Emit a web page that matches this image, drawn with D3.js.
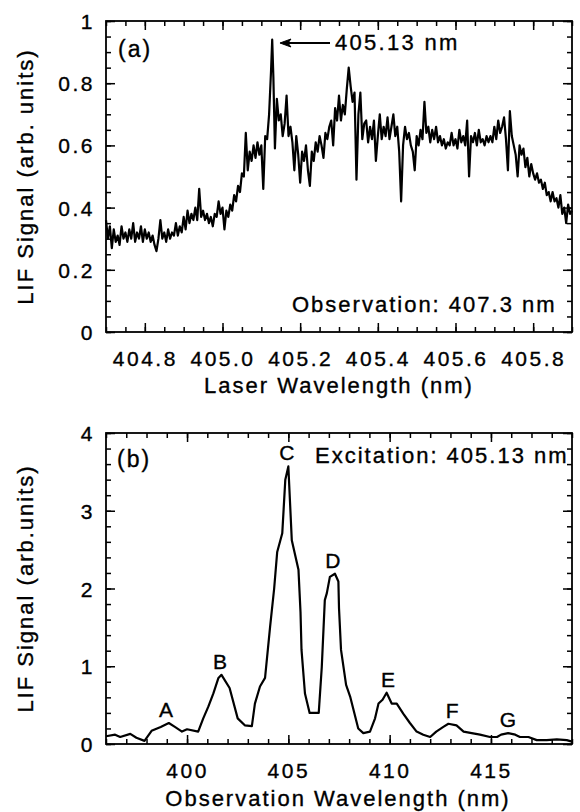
<!DOCTYPE html>
<html>
<head>
<meta charset="utf-8">
<script src="https://cdn.jsdelivr.net/npm/d3@7"></script>
<style>
  body { margin: 0; background: #fff; }
  svg text { font-family: "Liberation Sans", Arial, sans-serif; fill: #000; stroke: #000; stroke-width: 0.35px; }
</style>
</head>
<body>
<div id="chart"></div>
<script>
// panel (a): LIF excitation spectrum, observation at 407.3 nm
const laserSpectrum = [
  [404.700,0.36],[404.705,0.30],[404.710,0.34],[404.715,0.27],[404.720,0.33],[404.725,0.29],[404.730,0.31],[404.735,0.28],[404.740,0.34],[404.745,0.30],
  [404.750,0.32],[404.755,0.29],[404.760,0.33],[404.765,0.30],[404.770,0.35],[404.775,0.29],[404.780,0.32],[404.785,0.30],[404.790,0.34],[404.795,0.29],
  [404.800,0.33],[404.805,0.30],[404.810,0.32],[404.815,0.29],[404.820,0.31],[404.825,0.28],[404.830,0.26],[404.835,0.30],[404.840,0.36],[404.845,0.30],
  [404.850,0.32],[404.855,0.29],[404.860,0.33],[404.865,0.30],[404.870,0.32],[404.875,0.31],[404.880,0.35],[404.885,0.31],[404.890,0.34],[404.895,0.32],
  [404.900,0.37],[404.905,0.33],[404.910,0.39],[404.915,0.35],[404.920,0.38],[404.925,0.36],[404.930,0.40],[404.935,0.36],[404.940,0.46],[404.945,0.37],
  [404.950,0.39],[404.955,0.36],[404.960,0.38],[404.965,0.35],[404.970,0.37],[404.975,0.34],[404.980,0.38],[404.985,0.37],[404.990,0.42],[404.995,0.38],
  [405.000,0.40],[405.005,0.33],[405.010,0.39],[405.015,0.37],[405.020,0.41],[405.025,0.39],[405.030,0.44],[405.035,0.42],[405.040,0.47],[405.045,0.45],
  [405.050,0.51],[405.055,0.50],[405.060,0.64],[405.065,0.52],[405.070,0.58],[405.075,0.55],[405.080,0.60],[405.085,0.56],[405.090,0.61],[405.095,0.57],
  [405.100,0.60],[405.105,0.46],[405.110,0.63],[405.115,0.62],[405.120,0.70],[405.125,0.84],[405.128,0.94],[405.131,0.82],[405.135,0.59],[405.140,0.75],[405.145,0.68],
  [405.150,0.70],[405.155,0.63],[405.160,0.67],[405.165,0.76],[405.170,0.63],[405.175,0.66],[405.180,0.61],[405.185,0.52],[405.190,0.63],[405.195,0.57],
  [405.200,0.48],[405.205,0.58],[405.210,0.55],[405.215,0.60],[405.220,0.52],[405.225,0.47],[405.230,0.58],[405.235,0.55],[405.240,0.61],[405.245,0.58],
  [405.250,0.63],[405.255,0.60],[405.260,0.56],[405.265,0.64],[405.270,0.62],[405.275,0.66],[405.280,0.68],[405.285,0.60],[405.290,0.72],[405.295,0.68],
  [405.300,0.76],[405.305,0.68],[405.310,0.73],[405.315,0.70],[405.320,0.78],[405.325,0.85],[405.330,0.79],[405.335,0.74],[405.340,0.77],[405.345,0.49],
  [405.350,0.70],[405.355,0.77],[405.360,0.62],[405.365,0.67],[405.370,0.68],[405.375,0.61],[405.380,0.66],[405.385,0.62],[405.390,0.68],[405.395,0.55],
  [405.400,0.63],[405.405,0.70],[405.410,0.62],[405.415,0.66],[405.420,0.63],[405.425,0.69],[405.430,0.62],[405.435,0.66],[405.440,0.70],[405.445,0.63],
  [405.450,0.66],[405.455,0.58],[405.460,0.42],[405.465,0.60],[405.470,0.66],[405.475,0.62],[405.480,0.64],[405.485,0.60],[405.490,0.58],[405.495,0.52],
  [405.500,0.63],[405.505,0.60],[405.510,0.65],[405.515,0.62],[405.520,0.74],[405.525,0.64],[405.530,0.66],[405.535,0.61],[405.540,0.65],[405.545,0.62],
  [405.550,0.66],[405.555,0.61],[405.560,0.63],[405.565,0.60],[405.570,0.62],[405.575,0.59],[405.580,0.61],[405.585,0.60],[405.590,0.64],[405.595,0.60],
  [405.600,0.62],[405.605,0.59],[405.610,0.65],[405.615,0.61],[405.620,0.63],[405.625,0.60],[405.630,0.68],[405.635,0.50],[405.640,0.63],[405.645,0.61],
  [405.650,0.64],[405.655,0.60],[405.660,0.65],[405.665,0.61],[405.670,0.62],[405.675,0.60],[405.680,0.63],[405.685,0.61],[405.690,0.63],[405.695,0.61],
  [405.700,0.66],[405.705,0.62],[405.710,0.68],[405.715,0.64],[405.720,0.66],[405.725,0.69],[405.730,0.62],[405.735,0.52],[405.740,0.71],[405.745,0.63],
  [405.750,0.60],[405.755,0.57],[405.760,0.50],[405.765,0.60],[405.770,0.57],[405.775,0.59],[405.780,0.53],[405.785,0.56],[405.790,0.50],[405.795,0.54],
  [405.800,0.51],[405.805,0.49],[405.810,0.51],[405.815,0.48],[405.820,0.49],[405.825,0.46],[405.830,0.48],[405.835,0.44],[405.840,0.45],[405.845,0.42],
  [405.850,0.45],[405.855,0.42],[405.860,0.43],[405.865,0.40],[405.870,0.44],[405.875,0.38],[405.880,0.40],[405.885,0.35],[405.890,0.41],[405.895,0.38],[405.900,0.39]
]

// panel (b): dispersed fluorescence, excitation at 405.13 nm
const obsSpectrum = [
  [396.0,0.10],[396.45,0.12],[396.7,0.09],[397.2,0.13],[397.5,0.08],[397.9,0.04],[398.25,0.17],[398.7,0.22],[399.1,0.27],[399.4,0.22],
  [399.75,0.16],[400.0,0.19],[400.55,0.16],[400.8,0.33],[401.05,0.48],[401.3,0.65],[401.55,0.85],[401.7,0.89],[402.1,0.72],[402.5,0.33],
  [402.85,0.24],[403.2,0.23],[403.35,0.52],[403.6,0.74],[403.85,0.85],[404.1,1.51],[404.3,2.00],[404.45,2.47],[404.7,2.71],[404.85,3.40],
  [405.0,3.57],[405.17,2.62],[405.5,2.24],[405.6,1.70],[405.65,1.21],[405.82,0.65],[406.05,0.40],[406.5,0.40],[406.65,0.99],[406.8,1.85],
  [406.9,1.94],[407.05,2.15],[407.3,2.19],[407.47,2.09],[407.5,1.75],[407.6,1.21],[407.85,0.76],[408.05,0.61],[408.45,0.20],[408.7,0.14],
  [409.03,0.16],[409.28,0.33],[409.45,0.52],[409.65,0.57],[409.85,0.66],[410.1,0.52],[410.35,0.52],[410.67,0.39],[411.0,0.27],[411.33,0.16],
  [411.66,0.12],[412.0,0.09],[412.3,0.16],[412.65,0.22],[412.9,0.26],[413.3,0.24],[413.65,0.16],[414.05,0.14],[414.46,0.12],[414.95,0.09],
  [415.3,0.09],[415.5,0.12],[415.85,0.14],[416.2,0.12],[416.43,0.09],[416.85,0.09],[417.26,0.05],[417.75,0.05],[418.25,0.06],[418.74,0.05],[419.0,0.03]
]
const peakNames = ["A", "B", "C", "D", "E", "F", "G"]
const peakWl    = [398.96, 401.63, 404.93, 407.2, 409.92, 413.08, 415.84]
const peakTop   = [0.27, 0.89, 3.57, 2.19, 0.66, 0.26, 0.14]

// axes
const aXTicks = [404.8, 405.0, 405.2, 405.4, 405.6, 405.8]
const aYTicks = [0, 0.2, 0.4, 0.6, 0.8, 1]
const bXTicks = [400, 405, 410, 415]
const bYTicks = [0, 1, 2, 3, 4]

const W = 580, H = 812
const left = 106, right = 572

const svg = d3.select("#chart").append("svg")
  .attr("width", W).attr("height", H)
  .attr("viewBox", `0 0 ${W} ${H}`)

// draws frame, ticks on all four sides, and tick labels
const drawFrame = (g, x, y, xMajor, xMinor, yMajor, yMinor, xFmt, yFmt) => {
  const [x0, x1] = x.range(), [y0, y1] = y.range()
  const mk = (axis, vals, size, fmt) => axis.tickValues(vals).tickSize(size).tickSizeOuter(0)
    .tickPadding(size === -9 ? 12 : 0).tickFormat(fmt || "")

  g.append("g").attr("transform", `translate(0,${y0})`).call(mk(d3.axisBottom(x), xMinor, -5))
  g.append("g").attr("transform", `translate(0,${y0})`).attr("class", "xlab").call(mk(d3.axisBottom(x), xMajor, -9, xFmt))
  g.append("g").attr("transform", `translate(0,${y1})`).call(mk(d3.axisTop(x), xMinor, -5))
  g.append("g").attr("transform", `translate(0,${y1})`).call(mk(d3.axisTop(x), xMajor, -9))
  g.append("g").attr("transform", `translate(${x0},0)`).call(mk(d3.axisLeft(y), yMinor, -5))
  g.append("g").attr("transform", `translate(${x0},0)`).attr("class", "ylab").call(mk(d3.axisLeft(y), yMajor, -9, yFmt))
  g.append("g").attr("transform", `translate(${x1},0)`).call(mk(d3.axisRight(y), yMinor, -5))
  g.append("g").attr("transform", `translate(${x1},0)`).call(mk(d3.axisRight(y), yMajor, -9))

  g.selectAll(".domain").remove()
  g.selectAll(".tick line").attr("stroke", "#000").attr("stroke-width", 1.5)
  g.selectAll(".tick text").attr("font-size", 21).attr("letter-spacing", 2.5)
    .style("font-family", '"Liberation Sans", Arial, sans-serif')
  g.selectAll(".xlab .tick text").attr("dy", "1.05em")
  g.selectAll(".ylab .tick text").attr("x", -11).attr("dy", "0.36em")

  g.append("rect").attr("x", x0).attr("y", y1)
    .attr("width", x1 - x0).attr("height", y0 - y1)
    .attr("fill", "none").attr("stroke", "#000").attr("stroke-width", 1.8)
}

// ---------- panel (a) ----------
const ga = svg.append("g")
const xa = d3.scaleLinear().domain([404.7, 405.9]).range([left, right])
const ya = d3.scaleLinear().domain([0, 1]).range([332, 21])

drawFrame(ga, xa, ya, aXTicks, d3.range(404.7, 405.901, 0.05), aYTicks, d3.range(0, 1.001, 0.05),
  d => d.toFixed(1), d => (d === 0 || d === 1) ? d : d.toFixed(1))

ga.append("path").datum(laserSpectrum)
  .attr("fill", "none").attr("stroke", "#000").attr("stroke-width", 2.2).attr("stroke-linejoin", "round")
  .attr("d", d3.line().x(d => xa(d[0])).y(d => ya(d[1])))

ga.append("text").attr("x", 118).attr("y", 57).attr("font-size", 23).attr("letter-spacing", 2).text("(a)")
ga.append("text").attr("x", 292).attr("y", 312).attr("font-size", 22).attr("letter-spacing", 2).text("Observation: 407.3 nm")

// arrow to the 405.13 nm line
const tipX = xa(405.13) + 7, tipY = 43
ga.append("line").attr("x1", tipX + 6).attr("x2", 330).attr("y1", tipY).attr("y2", tipY)
  .attr("stroke", "#000").attr("stroke-width", 1.8)
ga.append("path").attr("d", `M${tipX},${tipY} L${tipX + 11},${tipY - 4} L${tipX + 8},${tipY} L${tipX + 11},${tipY + 4} Z`)
  .attr("fill", "#000").attr("stroke", "#000").attr("stroke-width", 1)
ga.append("text").attr("x", 335).attr("y", 50).attr("font-size", 22).attr("letter-spacing", 2.3).text("405.13 nm")

ga.append("text").attr("x", 339).attr("y", 393).attr("text-anchor", "middle")
  .attr("font-size", 22).attr("letter-spacing", 2).text("Laser Wavelength (nm)")
ga.append("text").attr("transform", `translate(33,${(332 + 21) / 2}) rotate(-90)`).attr("text-anchor", "middle")
  .attr("font-size", 22).attr("letter-spacing", 2).text("LIF Signal (arb. units)")

// ---------- panel (b) ----------
const gb = svg.append("g")
const xb = d3.scaleLinear().domain([396, 419]).range([left, right])
const yb = d3.scaleLinear().domain([0, 4]).range([744, 433])

drawFrame(gb, xb, yb, bXTicks, d3.range(396, 419.01, 1), bYTicks, d3.range(0, 4.001, 0.2),
  d => d, d => d)

gb.append("path").datum(obsSpectrum)
  .attr("fill", "none").attr("stroke", "#000").attr("stroke-width", 2.2).attr("stroke-linejoin", "round")
  .attr("d", d3.line().x(d => xb(d[0])).y(d => yb(d[1])))

gb.selectAll(".peak").data(peakNames).join("text").attr("class", "peak")
  .attr("x", (d, i) => xb(peakWl[i])).attr("y", (d, i) => yb(peakTop[i]) - 6)
  .attr("text-anchor", "middle").attr("font-size", 21).text(d => d)

gb.append("text").attr("x", 117).attr("y", 467).attr("font-size", 23).attr("letter-spacing", 2).text("(b)")
gb.append("text").attr("x", 315).attr("y", 463).attr("font-size", 22).attr("letter-spacing", 2).text("Excitation: 405.13 nm")

gb.append("text").attr("x", 338).attr("y", 806).attr("text-anchor", "middle")
  .attr("font-size", 22).attr("letter-spacing", 2).text("Observation Wavelength (nm)")
gb.append("text").attr("transform", `translate(33,${(744 + 433) / 2}) rotate(-90)`).attr("text-anchor", "middle")
  .attr("font-size", 22).attr("letter-spacing", 2).text("LIF Signal (arb.units)")
</script>
</body>
</html>
